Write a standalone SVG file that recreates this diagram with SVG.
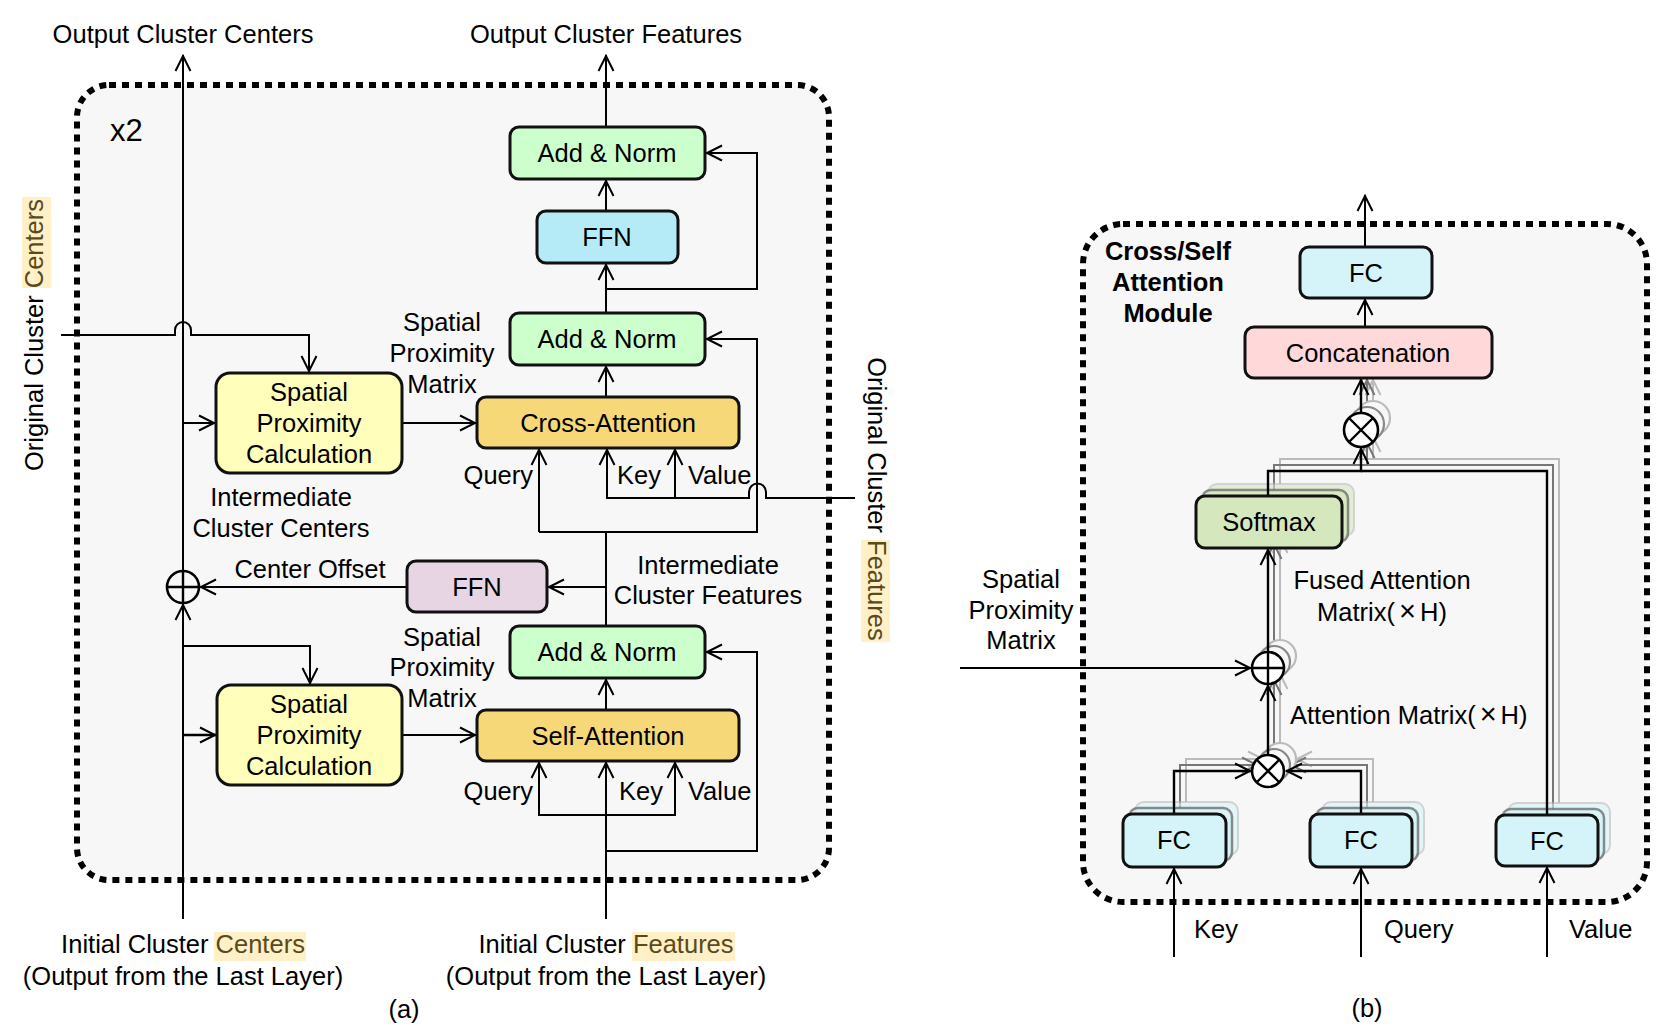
<svg xmlns="http://www.w3.org/2000/svg" width="1658" height="1031" viewBox="0 0 1658 1031">
<defs>
<style>
text{font-family:"Liberation Sans",Arial,sans-serif;font-size:25.5px;fill:#000}
.c{text-anchor:middle}
.b{font-weight:bold}
.hl{fill:#5a4a1a}
.hlbg{fill:#fff0c8}
.x{font-size:29px}
.box{stroke:#111;stroke-width:3}
.ln{fill:none;stroke:#000;stroke-width:2}
.ln2{fill:none;stroke:#000;stroke-width:2.4}
.s1{fill:none;stroke:#777;stroke-width:2}
.s2{fill:none;stroke:#bbb;stroke-width:2}
.frame{fill:#f7f7f7;stroke:#000;stroke-width:6;stroke-dasharray:7 6}
.an{fill:#ccffcc}
.ffn{fill:#b5ebf7}
.att{fill:#f6d879}
.spc{fill:#ffffbb}
.ffp{fill:#e7d5e3}
.fc{fill:#d5f4f9}
.cat{fill:#ffd9d9}
.sm{fill:#d5e8bd}
.op{fill:#fff;stroke:#000;stroke-width:2.6}
</style>
<marker id="ah" viewBox="-17 -10 20 20" refX="1" refY="0" markerWidth="20" markerHeight="20" markerUnits="userSpaceOnUse" orient="auto">
<path d="M-15,-7.5 L0,0 L-15,7.5" fill="none" stroke="#000" stroke-width="2"/>
</marker>
<marker id="ah1" viewBox="-17 -10 20 20" refX="1" refY="0" markerWidth="20" markerHeight="20" markerUnits="userSpaceOnUse" orient="auto">
<path d="M-15,-7.5 L0,0 L-15,7.5" fill="none" stroke="#777" stroke-width="2"/>
</marker>
<marker id="ah2" viewBox="-17 -10 20 20" refX="1" refY="0" markerWidth="20" markerHeight="20" markerUnits="userSpaceOnUse" orient="auto">
<path d="M-15,-7.5 L0,0 L-15,7.5" fill="none" stroke="#bbb" stroke-width="2"/>
</marker>
</defs>
<rect width="1658" height="1031" fill="#fff"/>

<!-- frames -->
<g id="frame-a"><rect class="frame" x="77" y="85" width="752" height="795" rx="32"/></g>
<g id="frame-b"><rect class="frame" x="1083" y="224" width="564" height="678" rx="40"/></g>

<!-- ===== Panel (a) labels ===== -->
<g id="labels-a">
<text class="c" x="183" y="43">Output Cluster Centers</text>
<text class="c" x="606" y="43">Output Cluster Features</text>
<text x="110" y="141" style="font-size:31px">x2</text>
<text class="c" x="442" y="331">Spatial</text>
<text class="c" x="442" y="362">Proximity</text>
<text class="c" x="442" y="393">Matrix</text>
<text class="c" x="442" y="646">Spatial</text>
<text class="c" x="442" y="676">Proximity</text>
<text class="c" x="442" y="707">Matrix</text>
<text x="533" y="484" style="text-anchor:end">Query</text>
<text x="617" y="484">Key</text>
<text x="688" y="484">Value</text>
<text x="533" y="800" style="text-anchor:end">Query</text>
<text x="619" y="800">Key</text>
<text x="688" y="800">Value</text>
<text class="c" x="281" y="506">Intermediate</text>
<text class="c" x="281" y="537">Cluster Centers</text>
<text class="c" x="310" y="578">Center Offset</text>
<text class="c" x="708" y="574">Intermediate</text>
<text class="c" x="708" y="604">Cluster Features</text>
<g transform="translate(43,335) rotate(-90)">
<rect class="hlbg" x="47" y="-21" width="91" height="29"/>
<text class="c" x="0" y="0">Original Cluster <tspan class="hl">Centers</tspan></text>
</g>
<g transform="translate(868,499) rotate(90)">
<rect class="hlbg" x="41" y="-22" width="102" height="29"/>
<text class="c" x="0" y="0">Original Cluster <tspan class="hl">Features</tspan></text>
</g>
<rect class="hlbg" x="214" y="932" width="92" height="29"/>
<text class="c" x="183" y="953">Initial Cluster <tspan class="hl">Centers</tspan></text>
<text class="c" x="183" y="985">(Output from the Last Layer)</text>
<rect class="hlbg" x="632" y="932" width="103" height="29"/>
<text class="c" x="606" y="953">Initial Cluster <tspan class="hl">Features</tspan></text>
<text class="c" x="606" y="985">(Output from the Last Layer)</text>
<text class="c" x="404" y="1018">(a)</text>
</g>

<!-- ===== Panel (a) connectors ===== -->
<g id="connectors-a">
<path class="ln" d="M183,571 V55" marker-end="url(#ah)"/>
<path class="ln" d="M183,919 V604" marker-end="url(#ah)"/>
<path class="ln" d="M183,423 H215" marker-end="url(#ah)"/>
<path class="ln" d="M183,646 H310 V684" marker-end="url(#ah)"/>
<path class="ln2" d="M183,735 H216" marker-end="url(#ah)"/>
<path class="ln" d="M61,335 H175 V330 A8,8 0 0 1 191,330 V335 H309 V372" marker-end="url(#ah)"/>
<path class="ln" d="M402,423 H476" marker-end="url(#ah)"/>
<path class="ln" d="M401,735 H476" marker-end="url(#ah)"/>
<path class="ln" d="M606,127 V55" marker-end="url(#ah)"/>
<path class="ln" d="M606,211 V180" marker-end="url(#ah)"/>
<path class="ln" d="M606,313 V264" marker-end="url(#ah)"/>
<path class="ln" d="M606,289 H757 V153 H706" marker-end="url(#ah)"/>
<path class="ln" d="M606,397 V366" marker-end="url(#ah)"/>
<path class="ln" d="M606,626 V532"/>
<path class="ln" d="M539,532 V449" marker-end="url(#ah)"/>
<path class="ln" d="M539,532 H757 V339 H706" marker-end="url(#ah)"/>
<path class="ln" d="M855,498 H766 V492 A8.5,8.5 0 0 0 749,492 V498 H607 V449" marker-end="url(#ah)"/>
<path class="ln" d="M675,498 V449" marker-end="url(#ah)"/>
<path class="ln" d="M606,587 H548" marker-end="url(#ah)"/>
<path class="ln" d="M409,587 H200" marker-end="url(#ah)"/>
<path class="ln" d="M606,919 V762" marker-end="url(#ah)"/>
<path class="ln" d="M606,815 H539 V762" marker-end="url(#ah)"/>
<path class="ln" d="M606,815 H675 V762" marker-end="url(#ah)"/>
<path class="ln" d="M606,851 H757 V652 H706" marker-end="url(#ah)"/>
<path class="ln" d="M606,710 V679" marker-end="url(#ah)"/>
</g>

<!-- ===== Panel (a) nodes ===== -->
<g id="addnorm-top"><rect class="box an" x="510" y="127" width="195" height="52" rx="9"/><text class="c" x="607" y="162">Add &amp; Norm</text></g>
<g id="ffn-top"><rect class="box ffn" x="537" y="211" width="141" height="52" rx="9"/><text class="c" x="607" y="246">FFN</text></g>
<g id="addnorm-mid"><rect class="box an" x="510" y="313" width="195" height="52" rx="9"/><text class="c" x="607" y="348">Add &amp; Norm</text></g>
<g id="cross-attention"><rect class="box att" x="477" y="397" width="262" height="51" rx="9"/><text class="c" x="608" y="432">Cross-Attention</text></g>
<g id="spc-upper"><rect class="box spc" x="216" y="373" width="186" height="100" rx="14"/>
<text class="c" x="309" y="401">Spatial</text><text class="c" x="309" y="432">Proximity</text><text class="c" x="309" y="463">Calculation</text></g>
<g id="sum-a"><circle class="op" cx="183" cy="587" r="16" style="fill:#f7f7f7"/><path class="ln2" d="M167,587 H199 M183,571 V603"/></g>
<g id="ffn-offset"><rect class="box ffp" x="407" y="561" width="140" height="51" rx="9"/><text class="c" x="477" y="596">FFN</text></g>
<g id="addnorm-low"><rect class="box an" x="510" y="626" width="195" height="52" rx="9"/><text class="c" x="607" y="661">Add &amp; Norm</text></g>
<g id="self-attention"><rect class="box att" x="477" y="710" width="262" height="51" rx="9"/><text class="c" x="608" y="745">Self-Attention</text></g>
<g id="spc-lower"><rect class="box spc" x="217" y="685" width="185" height="100" rx="14"/>
<text class="c" x="309" y="713">Spatial</text><text class="c" x="309" y="744">Proximity</text><text class="c" x="309" y="775">Calculation</text></g>

<!-- ===== Panel (b) labels ===== -->
<g id="labels-b">
<text class="c b" x="1168" y="260">Cross/Self</text>
<text class="c b" x="1168" y="291">Attention</text>
<text class="c b" x="1168" y="322">Module</text>
<text class="c" x="1021" y="588">Spatial</text>
<text class="c" x="1021" y="619">Proximity</text>
<text class="c" x="1021" y="649">Matrix</text>
<text class="c" x="1382" y="589">Fused Attention</text>
<text class="c" x="1382" y="621">Matrix(<tspan class="x" dx="4">×</tspan><tspan dx="4">H)</tspan></text>
<text x="1290" y="724">Attention Matrix(<tspan class="x" dx="4">×</tspan><tspan dx="4">H)</tspan></text>
<text x="1194" y="938">Key</text>
<text x="1384" y="938">Query</text>
<text x="1569" y="938">Value</text>
<text class="c" x="1367" y="1017">(b)</text>
</g>

<!-- ===== Panel (b) connectors ===== -->
<g id="connectors-b">
<!-- far shadows -->
<path class="s2" d="M1373,401 V379" marker-end="url(#ah2)"/>
<path class="s2" d="M1280,484 V459 H1373 V436" marker-end="url(#ah2)"/>
<path class="s2" d="M1559,803 V459 H1373"/>
<path class="s2" d="M1280,640 V537" marker-end="url(#ah2)"/>
<path class="s2" d="M1280,743 V673" marker-end="url(#ah2)"/>
<path class="s2" d="M1186,802 V759 H1264" marker-end="url(#ah2)"/>
<path class="s2" d="M1373,802 V759 H1296" marker-end="url(#ah2)"/>
<!-- near shadows -->
<path class="s1" d="M1367,407 V379" marker-end="url(#ah1)"/>
<path class="s1" d="M1274,490 V465 H1367 V442" marker-end="url(#ah1)"/>
<path class="s1" d="M1553,809 V465 H1367"/>
<path class="s1" d="M1274,646 V543" marker-end="url(#ah1)"/>
<path class="s1" d="M1274,749 V679" marker-end="url(#ah1)"/>
<path class="s1" d="M1180,808 V765 H1258" marker-end="url(#ah1)"/>
<path class="s1" d="M1367,808 V765 H1290" marker-end="url(#ah1)"/>
</g>

<!-- shadow nodes -->
<g id="shadows-b">
<rect class="fc" x="1135" y="802" width="103" height="53" rx="9" style="stroke:#bbb;stroke-width:2;opacity:.6"/>
<rect class="fc" x="1129" y="808" width="103" height="53" rx="9" style="stroke:#666;stroke-width:2.5;opacity:.75"/>
<rect class="fc" x="1322" y="802" width="102" height="53" rx="9" style="stroke:#bbb;stroke-width:2;opacity:.6"/>
<rect class="fc" x="1316" y="808" width="102" height="53" rx="9" style="stroke:#666;stroke-width:2.5;opacity:.75"/>
<rect class="fc" x="1508" y="803" width="102" height="51" rx="9" style="stroke:#bbb;stroke-width:2;opacity:.6"/>
<rect class="fc" x="1502" y="809" width="102" height="51" rx="9" style="stroke:#666;stroke-width:2.5;opacity:.75"/>
<rect class="sm" x="1208" y="484" width="146" height="52" rx="9" style="stroke:#bbb;stroke-width:2;opacity:.6"/>
<rect class="sm" x="1202" y="490" width="146" height="52" rx="9" style="stroke:#666;stroke-width:2.5;opacity:.75"/>
<circle cx="1373" cy="418" r="17" fill="#f7f7f7" stroke="#bbb" stroke-width="2.2"/>
<circle cx="1367" cy="424" r="17" fill="#f7f7f7" stroke="#888" stroke-width="2.2"/>
<circle cx="1280" cy="656" r="16" fill="#f7f7f7" stroke="#bbb" stroke-width="2.2"/>
<circle cx="1274" cy="662" r="16" fill="#f7f7f7" stroke="#888" stroke-width="2.2"/>
<circle cx="1280" cy="759" r="16" fill="#f7f7f7" stroke="#bbb" stroke-width="2.2"/>
<circle cx="1274" cy="765" r="16" fill="#f7f7f7" stroke="#888" stroke-width="2.2"/>
</g>

<g id="connectors-b-main">
<path class="ln" d="M1365,247 V195" marker-end="url(#ah)"/>
<path class="ln" d="M1365,327 V299" marker-end="url(#ah)"/>
<path class="ln2" d="M1361,413 V379" marker-end="url(#ah)"/>
<path class="ln2" d="M1268,496 V471 H1361 V448" marker-end="url(#ah)"/>
<path class="ln2" d="M1547,815 V471 H1361"/>
<path class="ln2" d="M1268,652 V549" marker-end="url(#ah)"/>
<path class="ln" d="M960,668 H1251" marker-end="url(#ah)"/>
<path class="ln2" d="M1268,755 V685" marker-end="url(#ah)"/>
<path class="ln2" d="M1174,814 V771 H1251" marker-end="url(#ah)"/>
<path class="ln2" d="M1361,814 V771 H1286" marker-end="url(#ah)"/>
<path class="ln" d="M1174,957 V868" marker-end="url(#ah)"/>
<path class="ln" d="M1361,957 V868" marker-end="url(#ah)"/>
<path class="ln" d="M1547,957 V867" marker-end="url(#ah)"/>
</g>

<!-- ===== Panel (b) nodes ===== -->
<g id="fc-out"><rect class="box fc" x="1300" y="247" width="132" height="51" rx="9"/><text class="c" x="1366" y="282">FC</text></g>
<g id="concat"><rect class="box cat" x="1245" y="327" width="247" height="51" rx="9"/><text class="c" x="1368" y="362">Concatenation</text></g>
<g id="mul-top"><circle class="op" cx="1361" cy="430" r="17"/><path class="ln2" d="M1349,418 L1373,442 M1373,418 L1349,442"/></g>
<g id="softmax"><rect class="box sm" x="1196" y="496" width="146" height="52" rx="9"/><text class="c" x="1269" y="531">Softmax</text></g>
<g id="sum-b"><circle class="op" cx="1268" cy="668" r="16"/><path class="ln2" d="M1252,668 H1284 M1268,652 V684"/></g>
<g id="mul-low"><circle class="op" cx="1268" cy="771" r="16"/><path class="ln2" d="M1257,760 L1279,782 M1279,760 L1257,782"/></g>
<g id="fc-key"><rect class="box fc" x="1123" y="814" width="103" height="53" rx="9"/><text class="c" x="1174" y="849">FC</text></g>
<g id="fc-query"><rect class="box fc" x="1310" y="814" width="102" height="53" rx="9"/><text class="c" x="1361" y="849">FC</text></g>
<g id="fc-value"><rect class="box fc" x="1496" y="815" width="102" height="51" rx="9"/><text class="c" x="1547" y="850">FC</text></g>
</svg>
